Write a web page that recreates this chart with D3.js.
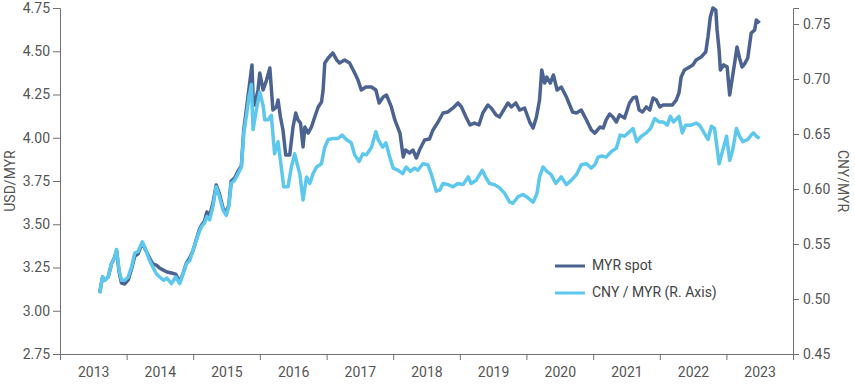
<!DOCTYPE html>
<html>
<head>
<meta charset="utf-8">
<script src="https://cdn.jsdelivr.net/npm/d3@7"></script>
<style>
  body { margin: 0; background: #fff; }
  text { font-family: Roboto, "Liberation Sans", sans-serif; }
</style>
</head>
<body>
<svg id="chart"></svg>
<script>
// MYR spot (USD/MYR, left axis)
var myrSpot = [
  ["2013-08-07",3.108],["2013-08-22",3.195],["2013-09-04",3.178],["2013-09-22",3.195],["2013-10-10",3.270],
  ["2013-10-28",3.311],["2013-11-07",3.345],["2013-11-21",3.224],["2013-12-04",3.160],["2013-12-22",3.155],
  ["2014-01-10",3.178],["2014-01-28",3.241],["2014-02-15",3.316],["2014-03-04",3.328],["2014-03-28",3.392],
  ["2014-04-15",3.351],["2014-05-07",3.305],["2014-05-25",3.270],["2014-06-13",3.264],["2014-07-01",3.247],
  ["2014-07-19",3.236],["2014-08-10",3.224],["2014-09-04",3.218],["2014-09-27",3.212],["2014-10-19",3.166],
  ["2014-11-07",3.218],["2014-11-25",3.276],["2014-12-13",3.305],["2015-01-01",3.351],["2015-01-19",3.415],
  ["2015-02-03",3.467],["2015-02-16",3.496],["2015-03-04",3.519],["2015-03-17",3.571],["2015-04-01",3.548],
  ["2015-04-19",3.623],["2015-05-07",3.727],["2015-05-25",3.675],["2015-06-13",3.594],["2015-07-01",3.565],
  ["2015-07-15",3.611],["2015-07-28",3.750],["2015-08-16",3.767],["2015-09-04",3.808],["2015-09-22",3.837],
  ["2015-10-05",4.045],["2015-10-19",4.160],["2015-11-03",4.288],["2015-11-19",4.421],["2015-11-25",4.236],
  ["2015-12-04",4.189],["2015-12-22",4.276],["2016-01-01",4.374],["2016-01-19",4.276],["2016-02-07",4.334],
  ["2016-02-25",4.403],["2016-03-13",4.160],["2016-04-01",4.178],["2016-04-10",4.218],["2016-04-23",4.120],
  ["2016-05-07",4.045],["2016-05-22",3.900],["2016-06-13",3.900],["2016-07-01",4.062],["2016-07-16",4.143],
  ["2016-07-28",4.103],["2016-08-11",4.085],["2016-08-25",3.947],["2016-09-04",4.062],["2016-09-22",4.027],
  ["2016-10-10",4.062],["2016-10-28",4.120],["2016-11-16",4.178],["2016-12-04",4.207],["2016-12-13",4.276],
  ["2016-12-22",4.432],["2017-01-10",4.461],["2017-02-04",4.490],["2017-02-26",4.449],["2017-03-13",4.432],
  ["2017-04-10",4.449],["2017-05-07",4.432],["2017-06-04",4.374],["2017-06-22",4.334],["2017-07-10",4.276],
  ["2017-08-04",4.293],["2017-09-04",4.293],["2017-09-28",4.276],["2017-10-16",4.201],["2017-11-07",4.236],
  ["2017-11-25",4.247],["2017-12-22",4.178],["2018-01-10",4.103],["2018-02-07",4.027],["2018-02-25",3.889],
  ["2018-03-10",3.929],["2018-04-01",3.912],["2018-04-19",3.929],["2018-05-08",3.883],["2018-05-25",3.929],
  ["2018-06-22",3.987],["2018-07-19",3.993],["2018-08-07",4.045],["2018-09-04",4.091],["2018-10-01",4.143],
  ["2018-10-28",4.149],["2018-11-25",4.172],["2018-12-22",4.201],["2019-01-10",4.178],["2019-02-04",4.120],
  ["2019-02-26",4.074],["2019-03-22",4.085],["2019-04-16",4.074],["2019-05-07",4.143],["2019-06-04",4.189],
  ["2019-06-22",4.172],["2019-07-19",4.132],["2019-08-07",4.120],["2019-08-29",4.160],["2019-09-22",4.201],
  ["2019-10-10",4.178],["2019-11-04",4.201],["2019-11-25",4.160],["2019-12-22",4.172],["2020-01-19",4.091],
  ["2020-02-07",4.056],["2020-02-25",4.120],["2020-03-13",4.218],["2020-03-25",4.392],["2020-04-10",4.316],
  ["2020-04-22",4.351],["2020-05-11",4.316],["2020-05-28",4.363],["2020-06-17",4.276],["2020-07-10",4.293],
  ["2020-08-07",4.236],["2020-09-10",4.149],["2020-10-01",4.143],["2020-10-28",4.160],["2020-11-25",4.103],
  ["2020-12-22",4.045],["2021-01-10",4.027],["2021-02-07",4.062],["2021-02-25",4.056],["2021-03-13",4.103],
  ["2021-04-01",4.137],["2021-04-19",4.120],["2021-05-08",4.091],["2021-05-25",4.132],["2021-06-22",4.114],
  ["2021-07-19",4.201],["2021-08-07",4.230],["2021-08-25",4.236],["2021-09-10",4.160],["2021-09-28",4.149],
  ["2021-10-19",4.178],["2021-11-07",4.160],["2021-11-25",4.230],["2021-12-13",4.218],["2022-01-01",4.178],
  ["2022-01-19",4.189],["2022-02-16",4.189],["2022-03-10",4.189],["2022-04-01",4.218],["2022-04-16",4.259],
  ["2022-04-28",4.351],["2022-05-16",4.392],["2022-06-04",4.403],["2022-07-01",4.421],["2022-07-19",4.449],
  ["2022-08-16",4.467],["2022-09-10",4.496],["2022-09-22",4.582],["2022-10-05",4.698],["2022-10-19",4.750],
  ["2022-11-04",4.738],["2022-11-11",4.623],["2022-11-22",4.507],["2022-11-29",4.392],["2022-12-17",4.421],
  ["2023-01-05",4.409],["2023-01-19",4.247],["2023-02-16",4.438],["2023-02-28",4.525],["2023-03-14",4.461],
  ["2023-03-28",4.409],["2023-04-10",4.426],["2023-04-28",4.461],["2023-05-17",4.605],["2023-06-05",4.623],
  ["2023-06-14",4.681],["2023-07-02",4.663]
];

// CNY / MYR (right axis)
var cnyMyr = [
  ["2013-08-07",0.505],["2013-08-22",0.520],["2013-09-04",0.517],["2013-09-22",0.520],["2013-10-10",0.532],
  ["2013-10-28",0.538],["2013-11-07",0.545],["2013-11-21",0.526],["2013-12-04",0.517],["2013-12-22",0.517],
  ["2014-01-10",0.520],["2014-01-28",0.529],["2014-02-15",0.542],["2014-03-04",0.543],["2014-03-28",0.552],
  ["2014-04-15",0.545],["2014-05-07",0.535],["2014-05-25",0.529],["2014-06-13",0.523],["2014-07-01",0.520],
  ["2014-07-23",0.517],["2014-08-10",0.519],["2014-09-04",0.514],["2014-09-27",0.520],["2014-10-19",0.514],
  ["2014-11-07",0.523],["2014-11-25",0.532],["2014-12-13",0.535],["2015-01-01",0.545],["2015-01-19",0.554],
  ["2015-02-03",0.561],["2015-02-16",0.566],["2015-03-04",0.569],["2015-03-17",0.575],["2015-04-01",0.572],
  ["2015-04-19",0.584],["2015-05-07",0.602],["2015-05-25",0.593],["2015-06-13",0.581],["2015-07-01",0.576],
  ["2015-07-15",0.584],["2015-07-28",0.605],["2015-08-16",0.608],["2015-09-04",0.614],["2015-09-22",0.620],
  ["2015-10-05",0.651],["2015-10-19",0.666],["2015-11-03",0.684],["2015-11-16",0.695],["2015-11-25",0.654],
  ["2015-12-13",0.672],["2016-01-01",0.688],["2016-01-19",0.676],["2016-01-28",0.663],["2016-02-16",0.663],
  ["2016-03-04",0.667],["2016-03-22",0.632],["2016-04-10",0.643],["2016-04-23",0.626],["2016-05-11",0.602],
  ["2016-06-04",0.602],["2016-06-22",0.620],["2016-07-10",0.632],["2016-07-28",0.620],["2016-08-07",0.614],
  ["2016-08-25",0.590],["2016-09-13",0.611],["2016-10-01",0.605],["2016-10-19",0.614],["2016-11-07",0.620],
  ["2016-12-04",0.623],["2016-12-22",0.638],["2017-01-10",0.645],["2017-02-07",0.646],["2017-03-04",0.646],
  ["2017-03-28",0.649],["2017-04-19",0.645],["2017-05-16",0.642],["2017-06-04",0.631],["2017-06-28",0.625],
  ["2017-07-19",0.632],["2017-08-07",0.631],["2017-09-04",0.638],["2017-09-28",0.652],["2017-10-10",0.645],
  ["2017-11-04",0.638],["2017-11-22",0.642],["2017-12-13",0.629],["2018-01-01",0.619],["2018-01-28",0.617],
  ["2018-02-22",0.614],["2018-03-13",0.620],["2018-04-05",0.616],["2018-04-28",0.619],["2018-05-16",0.617],
  ["2018-06-13",0.623],["2018-07-10",0.622],["2018-07-28",0.614],["2018-08-25",0.598],["2018-09-13",0.599],
  ["2018-10-01",0.605],["2018-10-28",0.604],["2018-11-25",0.602],["2018-12-22",0.605],["2019-01-19",0.604],
  ["2019-02-16",0.611],["2019-03-04",0.605],["2019-04-01",0.608],["2019-05-04",0.617],["2019-05-25",0.610],
  ["2019-06-13",0.605],["2019-07-10",0.604],["2019-08-07",0.601],["2019-09-04",0.596],["2019-10-01",0.588],
  ["2019-10-19",0.587],["2019-11-16",0.593],["2019-12-13",0.595],["2020-01-10",0.592],["2020-02-07",0.588],
  ["2020-02-28",0.596],["2020-03-13",0.611],["2020-04-01",0.620],["2020-04-22",0.616],["2020-05-16",0.613],
  ["2020-06-10",0.605],["2020-07-10",0.611],["2020-08-07",0.604],["2020-09-04",0.608],["2020-10-01",0.613],
  ["2020-10-28",0.622],["2020-11-25",0.623],["2020-12-22",0.619],["2021-01-10",0.622],["2021-01-28",0.629],
  ["2021-02-16",0.630],["2021-03-13",0.629],["2021-04-10",0.634],["2021-05-08",0.637],["2021-05-29",0.649],
  ["2021-06-22",0.648],["2021-07-19",0.652],["2021-08-07",0.655],["2021-08-28",0.643],["2021-09-22",0.648],
  ["2021-10-19",0.651],["2021-11-11",0.655],["2021-12-04",0.664],["2021-12-28",0.661],["2022-01-19",0.661],
  ["2022-02-11",0.658],["2022-02-28",0.666],["2022-03-17",0.661],["2022-04-16",0.666],["2022-05-04",0.651],
  ["2022-05-22",0.658],["2022-06-22",0.658],["2022-07-19",0.660],["2022-08-07",0.658],["2022-08-29",0.652],
  ["2022-09-22",0.645],["2022-10-11",0.657],["2022-10-28",0.655],["2022-11-22",0.623],["2022-12-10",0.634],
  ["2023-01-02",0.648],["2023-01-19",0.626],["2023-02-04",0.635],["2023-02-25",0.655],["2023-03-14",0.648],
  ["2023-04-01",0.643],["2023-04-28",0.645],["2023-05-17",0.649],["2023-05-29",0.651],["2023-06-14",0.648],
  ["2023-07-02",0.646]
];

var years = [2013,2014,2015,2016,2017,2018,2019,2020,2021,2022,2023];
var leftTicks = [2.75,3.00,3.25,3.50,3.75,4.00,4.25,4.50,4.75];
var rightTicks = [0.45,0.50,0.55,0.60,0.65,0.70,0.75];
var legend = [
  {title:"MYR spot", color:"#4c6391"},
  {title:"CNY / MYR (R. Axis)", color:"#5dc7ed"}
];

function init(){
    var width = 855;
    var height = 386;
    var left = 60, right = 793, top = 8, bottom = 354;
    var axisColor = "#707070";
    var textColor = "#555";
    var parse = d3.timeParse("%Y-%m-%d");

    var svg = d3.select("#chart").attr("width", width).attr("height", height);

    var x = d3.scaleTime()
        .domain([new Date(2013,0,1), new Date(2024,0,1)])
        .range([left, right]);
    var yL = d3.scaleLinear().domain([2.75, 4.75]).range([bottom, top]);
    // right axis: 0.45 at bottom, 0.75 about 24px from top
    var yR = d3.scaleLinear().domain([0.45, 0.45 + (bottom-top)/1100]).range([bottom, top]);

    // x axis: tick marks at year starts, labels in the middle of each year
    var xTicks = years.map(function(y){return new Date(y,0,1)}).concat([new Date(2024,0,1)]);
    var gx = svg.append("g").attr("transform","translate(0,"+bottom+")");
    gx.call(d3.axisBottom(x).tickValues(xTicks).tickSize(6).tickFormat(""));
    var gxl = svg.append("g").attr("transform","translate(0,"+bottom+")");
    gxl.call(d3.axisBottom(x)
        .tickValues(years.map(function(y){return new Date(y,6,2)}))
        .tickSize(0).tickPadding(13)
        .tickFormat(d3.timeFormat("%Y")));
    gxl.select(".domain").remove();

    var gl = svg.append("g").attr("transform","translate("+left+",0)");
    gl.call(d3.axisLeft(yL).tickValues(leftTicks).tickSize(7).tickPadding(3).tickFormat(d3.format(".2f")));

    var gr = svg.append("g").attr("transform","translate("+right+",0)");
    gr.call(d3.axisRight(yR).tickValues(rightTicks).tickSize(6).tickPadding(4).tickFormat(d3.format(".2f")));

    svg.selectAll(".domain, .tick line").attr("stroke", axisColor);
    svg.selectAll(".tick text").attr("fill", textColor).style("font-size","14px");

    // axis titles
    svg.append("text")
        .attr("transform","translate(15,"+((top+bottom)/2)+") rotate(-90)")
        .attr("text-anchor","middle")
        .attr("fill", textColor)
        .style("font-size","14px")
        .text("USD/MYR");
    svg.append("text")
        .attr("transform","translate(838,"+((top+bottom)/2)+") rotate(90)")
        .attr("text-anchor","middle")
        .attr("fill", textColor)
        .style("font-size","14px")
        .text("CNY/MYR");

    // lines
    var lineL = d3.line()
        .x(function(d){return x(parse(d[0]))})
        .y(function(d){return yL(d[1])});
    var lineR = d3.line()
        .x(function(d){return x(parse(d[0]))})
        .y(function(d){return yR(d[1])});

    svg.append("path")
        .attr("fill","none")
        .attr("stroke", legend[0].color)
        .attr("stroke-width", 3.5)
        .attr("stroke-linejoin","round")
        .attr("d", lineL(myrSpot));
    svg.append("path")
        .attr("fill","none")
        .attr("stroke", legend[1].color)
        .attr("stroke-width", 3.5)
        .attr("stroke-linejoin","round")
        .attr("d", lineR(cnyMyr));

    // legend
    var leg = svg.append("g")
        .selectAll("g")
        .data(legend)
        .enter()
        .append("g")
        .attr("transform", function(d,i){return "translate(555,"+(266+i*27)+")"});
    leg.append("line")
        .attr("x1",0).attr("x2",30)
        .attr("stroke", function(d){return d.color})
        .attr("stroke-width",3);
    leg.append("text")
        .attr("x",37)
        .attr("dominant-baseline","middle")
        .attr("fill","#444")
        .style("font-size","14px")
        .text(function(d){return d.title});
}
init();
</script>
</body>
</html>
